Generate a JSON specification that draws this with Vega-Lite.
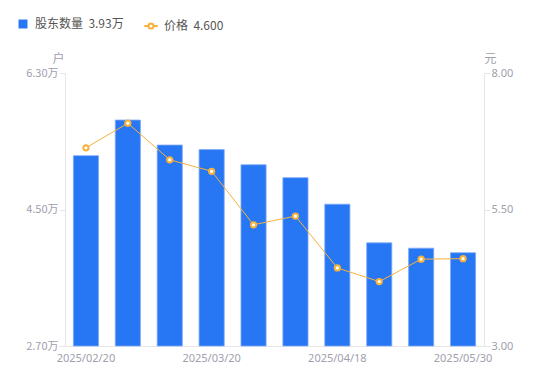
{
  "$schema": "https://vega.github.io/schema/vega-lite/v6.json",
  "autosize": "none",
  "width": 419,
  "height": 273,
  "padding": {"left": 65, "top": 73, "right": 66, "bottom": 35},
  "data": {"values": [
    {"date": "2025/02/20", "holders": 5.21, "price": 6.63},
    {"date": "2025/02/28", "holders": 5.68, "price": 7.08},
    {"date": "2025/03/10", "holders": 5.35, "price": 6.41},
    {"date": "2025/03/20", "holders": 5.29, "price": 6.20},
    {"date": "2025/03/31", "holders": 5.09, "price": 5.22},
    {"date": "2025/04/10", "holders": 4.92, "price": 5.38},
    {"date": "2025/04/18", "holders": 4.57, "price": 4.43},
    {"date": "2025/04/30", "holders": 4.06, "price": 4.18},
    {"date": "2025/05/20", "holders": 3.99, "price": 4.59},
    {"date": "2025/05/30", "holders": 3.93, "price": 4.60}
  ]},
  "encoding": {
    "x": {
      "field": "date", "type": "ordinal", "sort": null,
      "scale": {"paddingInner": 0.4, "paddingOuter": 0.2},
      "axis": {
        "title": null, "labelAngle": 0, "ticks": false,
        "values": ["2025/02/20", "2025/03/20", "2025/04/18", "2025/05/30"],
        "domainColor": "#e6e6e6", "labelColor": "#a0a0ad", "labelFontSize": 11,
        "labelPadding": 6, "labelFont": "Noto Sans"
      }
    }
  },
  "layer": [
    {
      "mark": {"type": "bar", "stroke": "#7eaaf7", "strokeWidth": 1, "strokeOpacity": 0.8},
      "encoding": {
        "y": {
          "field": "holders", "type": "quantitative",
          "scale": {"domain": [2.7, 6.3], "zero": false, "nice": false},
          "axis": {
            "values": [2.7, 4.5, 6.3], "grid": false,
            "labelExpr": "format(datum.value, '.2f') + '万'",
            "title": "户", "titleAngle": 0, "titleX": -7, "titleY": -15,
            "titleAlign": "center", "titleBaseline": "middle",
            "titleColor": "#a0a0ad", "titleFontWeight": "normal", "titleFontSize": 12,
            "titleFont": "Noto Sans CJK SC",
            "domainColor": "#e6e6e6", "tickColor": "#e6e6e6", "tickSize": 6,
            "labelColor": "#a0a0ad", "labelFontSize": 11, "labelPadding": 1,
            "labelFont": "Noto Sans CJK SC"
          }
        },
        "y2": {"datum": 2.7},
        "fill": {
          "datum": "股东数量",
          "scale": {"domain": ["股东数量"], "range": ["#2777f4"]},
          "legend": {
            "orient": "none", "legendX": -48, "legendY": -55, "title": null,
            "symbolType": "square", "symbolSize": 80, "symbolStrokeWidth": 0,
            "labelExpr": "datum.label + '\u00a0\u00a03.93万'",
            "labelColor": "#555555", "labelFontSize": 12, "labelOffset": 6,
            "labelFont": "Noto Sans CJK SC"
          }
        }
      }
    },
    {
      "layer": [
        {
          "mark": {"type": "line", "strokeWidth": 1, "color": "#f7b23b"},
          "encoding": {
            "y": {
              "field": "price", "type": "quantitative",
              "scale": {"domain": [3, 8], "zero": false, "nice": false},
              "axis": {
                "orient": "right", "values": [3, 5.5, 8], "grid": false,
                "format": ".2f",
                "title": "元", "titleAngle": 0, "titleX": 6, "titleY": -15,
                "titleAlign": "center", "titleBaseline": "middle",
                "titleColor": "#a0a0ad", "titleFontWeight": "normal", "titleFontSize": 12,
                "titleFont": "Noto Sans CJK SC",
                "domainColor": "#e6e6e6", "tickColor": "#e6e6e6", "tickSize": 6,
                "labelColor": "#a0a0ad", "labelFontSize": 11, "labelPadding": 1,
                "labelFont": "Noto Sans"
              }
            },
            "stroke": {
              "datum": "价格",
              "scale": {"domain": ["价格"], "range": ["#f7b23b"]},
              "legend": {
                "orient": "none", "legendX": 78, "legendY": -55, "title": null,
                "symbolType": "M-1,0L-0.38,0M0.38,0L1,0M-0.38,0A0.38,0.38 0 1,1 0.38,0A0.38,0.38 0 1,1 -0.38,0Z",
                "symbolSize": 180, "symbolStrokeWidth": 2, "symbolFillColor": "#ffffff",
                "labelExpr": "datum.label + '\u00a0\u00a04.600'",
                "labelColor": "#555555", "labelFontSize": 12, "labelOffset": 5,
                "labelFont": "Noto Sans CJK SC"
              }
            }
          }
        },
        {
          "mark": {"type": "point", "filled": true, "fill": "#ffffff", "size": 28, "strokeWidth": 2, "opacity": 1},
          "encoding": {
            "y": {"field": "price", "type": "quantitative"},
            "stroke": {"datum": "价格"}
          }
        }
      ]
    }
  ],
  "resolve": {"scale": {"y": "independent"}},
  "config": {"view": {"stroke": null}, "font": "Noto Sans CJK SC"}
}
